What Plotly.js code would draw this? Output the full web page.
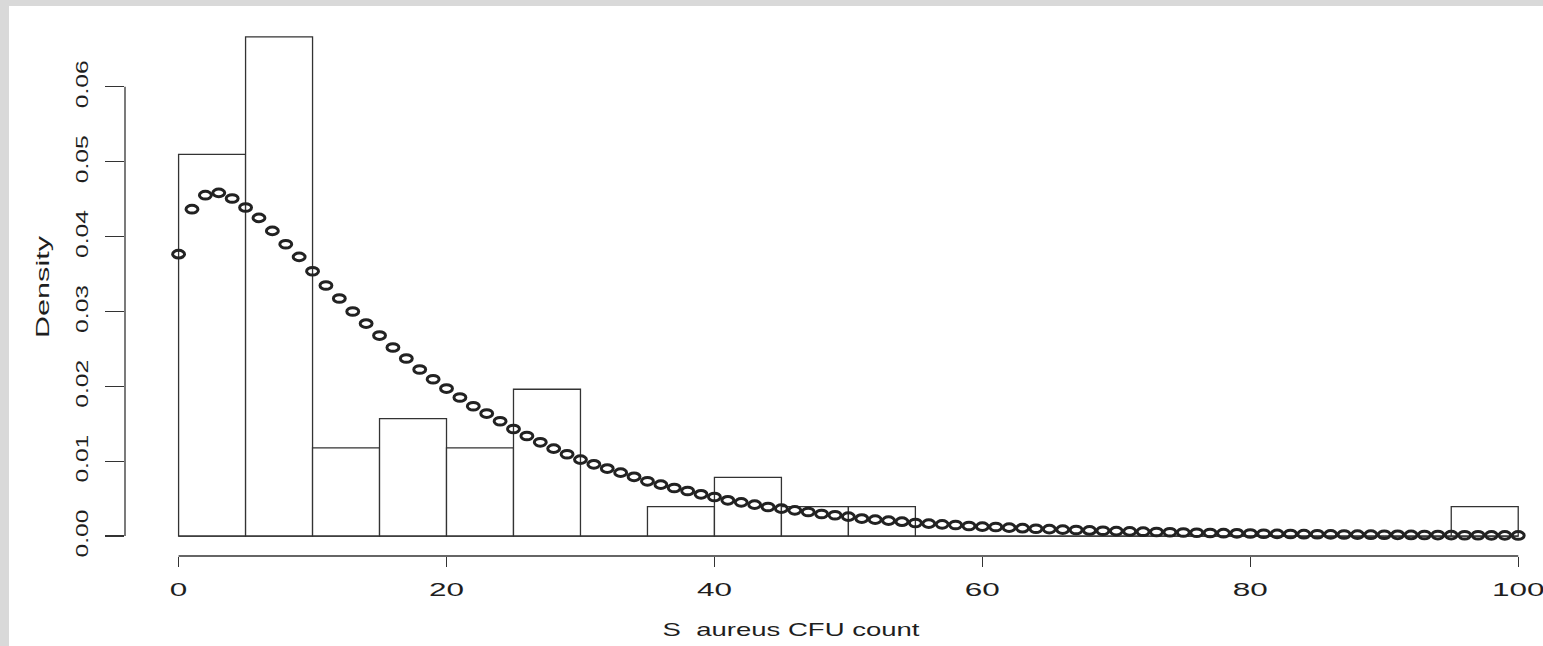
<!DOCTYPE html>
<html>
<head>
<meta charset="utf-8">
<script src="https://cdn.plot.ly/plotly-3.0.1.min.js"></script>
<style>
  html, body { margin: 0; padding: 0; background: #d9d9d9; width: 1543px; height: 646px; overflow: hidden; }
  #chart { position: absolute; left: 9px; top: 6px; width: 1534px; height: 640px; background: #ffffff; }
  #chart .scatterlayer .points path { vector-effect: non-scaling-stroke; }
</style>
</head>
<body>
<div id="chart"></div>
<script>
// Histogram bins (S. aureus CFU count), bin edges every 5
const binEdges = [0,5,10,15,20,25,30,35,40,45,50,55,60,65,70,75,80,85,90,95,100];
const binCounts = [13,17,3,4,3,5,0,1,2,1,1,0,0,0,0,0,0,0,0,1];

// Fitted density evaluated at integer counts 0..100
const densX = [0,1,2,3,4,5,6,7,8,9,10,11,12,13,14,15,16,17,18,19,20,21,22,23,24,25,26,27,28,29,30,
  31,32,33,34,35,36,37,38,39,40,41,42,43,44,45,46,47,48,49,50,51,52,53,54,55,56,57,58,59,60,
  61,62,63,64,65,66,67,68,69,70,71,72,73,74,75,76,77,78,79,80,81,82,83,84,85,86,87,88,89,90,
  91,92,93,94,95,96,97,98,99,100];
const densY = [0.03765,0.04366,0.04553,0.04584,0.04509,0.04389,0.04250,0.04076,0.03898,0.03729,
  0.03537,0.03346,0.03173,0.02999,0.02838,0.02678,0.02518,0.02371,0.02224,0.02094,
  0.01970,0.01850,0.01733,0.01636,0.01533,0.01430,0.01336,0.01252,0.01168,0.01092,
  0.01021,0.00958,0.00901,0.00847,0.00791,0.00731,0.00687,0.00641,0.00601,0.00557,
  0.00521,0.00477,0.00450,0.00420,0.00388,0.00366,0.00343,0.00321,0.00294,0.00277,
  0.00259,0.00233,0.00219,0.00206,0.00192,0.00174,0.00166,0.00156,0.00147,0.00134,
  0.00126,0.00120,0.00112,0.00105,0.00098,0.00092,0.00086,0.00080,0.00075,0.00070,
  0.00066,0.00062,0.00058,0.00054,0.00050,0.00047,0.00044,0.00041,0.00038,0.00036,
  0.00034,0.00031,0.00029,0.00027,0.00025,0.00024,0.00022,0.00021,0.00019,0.00018,
  0.00017,0.00016,0.00015,0.00014,0.00013,0.00012,0.00011,0.00010,0.00009,0.00009,0.00008];

const xTicks = [0,20,40,60,80,100];
const xTickText = ['0','20','40','60','80','100'];
const yTicks = [0,0.01,0.02,0.03,0.04,0.05,0.06];
const yTickText = ['0.00','0.01','0.02','0.03','0.04','0.05','0.06'];
const xLabel = 'S  aureus CFU count';
const yLabel = 'Density';

const nTotal = binCounts.reduce((a,b)=>a+b,0);
const binMid = binCounts.map((c,i)=> (binEdges[i]+binEdges[i+1])/2);
const binW = binCounts.map((c,i)=> binEdges[i+1]-binEdges[i]);
const binDens = binCounts.map((c,i)=> c/(nTotal*binW[i]));

const ink = '#333333';
const fam = 'Liberation Sans, Arial, Helvetica, sans-serif';
const txt = '#1e1e1e';

const traces = [
  {
    type: 'bar', x: binMid, y: binDens, width: binW,
    marker: {color: '#ffffff', line: {color: ink, width: 1.3}},
    hoverinfo: 'x+y', showlegend: false
  },
  {
    type: 'scatter', mode: 'lines',
    x: [binEdges[0], binEdges[binEdges.length-1]], y: [0, 0],
    line: {color: ink, width: 1.3}, hoverinfo: 'skip', showlegend: false
  },
  {
    type: 'scatter', mode: 'markers', x: densX, y: densY,
    marker: {symbol: 'circle-open', size: 8.5, color: '#222222', line: {width: 3, color: '#222222'}},
    showlegend: false
  }
];

const layout = {
  width: 1534, height: 640,
  margin: {l: 116, r: 0, t: 11, b: 90},
  paper_bgcolor: '#ffffff', plot_bgcolor: '#ffffff',
  font: {family: fam, size: 18, color: txt},
  bargap: 0,
  xaxis: {
    range: [-4, 101.85], showgrid: false, zeroline: false, showline: false,
    tickmode: 'array', tickvals: xTicks, ticktext: xTickText,
    ticks: 'outside', ticklen: 10, tickwidth: 1.2, tickcolor: ink,
    tickfont: {family: fam, size: 18, color: txt}, ticklabelstandoff: 7
  },
  yaxis: {
    range: [-0.0026667, 0.0693333], showgrid: false, zeroline: false, showline: false,
    tickmode: 'array', tickvals: yTicks, ticktext: yTickText, tickangle: -90,
    ticks: 'outside', ticklen: 19, tickwidth: 1.2, tickcolor: ink,
    tickfont: {family: fam, size: 17, color: txt}, ticklabelstandoff: 10
  },
  shapes: [
    {type: 'line', xref: 'x', yref: 'paper', x0: xTicks[0], x1: xTicks[xTicks.length-1], y0: 0, y1: 0,
     line: {color: ink, width: 1.3}},
    {type: 'line', xref: 'paper', yref: 'y', x0: 0, x1: 0, y0: yTicks[0], y1: yTicks[yTicks.length-1],
     line: {color: ink, width: 1.3}}
  ],
  annotations: [
    {text: xLabel, xref: 'x', yref: 'paper', x: 45.7, y: -0.137, xanchor: 'center', yanchor: 'middle',
     showarrow: false, font: {family: fam, size: 18, color: txt}},
    {text: yLabel, xref: 'paper', yref: 'y', x: -0.0582, y: 0.03333, xanchor: 'center', yanchor: 'middle',
     textangle: -90, showarrow: false, font: {family: fam, size: 18, color: txt}}
  ]
};

// widen glyphs along the writing direction (the reference uses a very wide face)
function widen(nodes, s) {
  nodes.forEach(t => {
    const x = parseFloat(t.getAttribute('x')) || 0;
    const y = parseFloat(t.getAttribute('y')) || 0;
    const tr = t.getAttribute('transform') || '';
    t.setAttribute('transform', tr + ' translate(' + x + ',' + y + ') scale(' + s + ',1) translate(' + (-x) + ',' + (-y) + ')');
  });
}

Plotly.newPlot('chart', traces, layout, {displayModeBar: false, staticPlot: true}).then(gd => {
  widen(gd.querySelectorAll('.xtick text'), 1.75);
  widen(gd.querySelectorAll('.ytick text'), 1.45);
  const ann = gd.querySelectorAll('.annotation-text');
  if (ann[0]) widen([ann[0]], 1.53);
  if (ann[1]) widen([ann[1]], 1.7);
  // elliptical open markers, as in the reference
  const traceGroups = gd.querySelectorAll('.scatterlayer .trace');
  const last = traceGroups[traceGroups.length - 1];
  if (last) last.querySelectorAll('.points path').forEach(p => {
    const tr = p.getAttribute('transform') || '';
    p.setAttribute('transform', tr + ' scale(1.4,0.9)');
  });
});
</script>
</body>
</html>
